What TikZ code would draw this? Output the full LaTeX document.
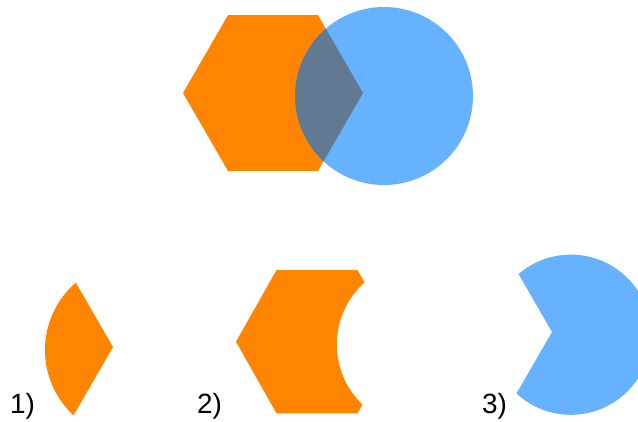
\documentclass[tikz,border=0pt]{standalone}
\usepackage{fontspec}
\setmainfont{Liberation Sans}
\definecolor{hexorange}{RGB}{255,132,0}
\definecolor{circblue}{RGB}{102,178,255}
\definecolor{overlapcol}{RGB}{98,122,145}
\newcommand\hexP{(363,93) -- (318,15.1) -- (228,15.1) -- (183,93) -- (228,170.9) -- (318,170.9) -- cycle}
\newcommand\circP{(384,96) circle[radius=89]}
\newcommand\bigR{(-400,-400) rectangle (1000,800)}
\tikzset{lbl/.style={anchor=base west, inner sep=0pt, font=\fontsize{28}{30}\selectfont}}
\begin{document}
\begin{tikzpicture}[x=1bp,y=-1bp]
\clip (0,0) rectangle (638,421);
% top: hexagon and circle with overlap
\fill[hexorange] \hexP;
\fill[circblue] \circP;
\begin{scope}
  \clip \hexP;
  \fill[overlapcol] \circP;
\end{scope}
% 1) intersection
\begin{scope}[shift={(-250,254)}]
  \clip \hexP;
  \fill[hexorange] \circP;
\end{scope}
% 2) hexagon minus circle
\begin{scope}[shift={(71.3,256.1)}, xscale=0.9, yscale=0.92]
  \clip \hexP;
  \fill[hexorange, even odd rule] \bigR \circP;
\end{scope}
% 3) circle minus hexagon
\begin{scope}[shift={(225.3,248.3)}, scale=0.9]
  \clip \circP;
  \fill[circblue, even odd rule] \bigR \hexP;
\end{scope}
\node[lbl] (l1) at (10,413) {1)};
\node[lbl] (l2) at (197,413) {2)};
\node[lbl] (l3) at (482,413) {3)};
\end{tikzpicture}
\end{document}
